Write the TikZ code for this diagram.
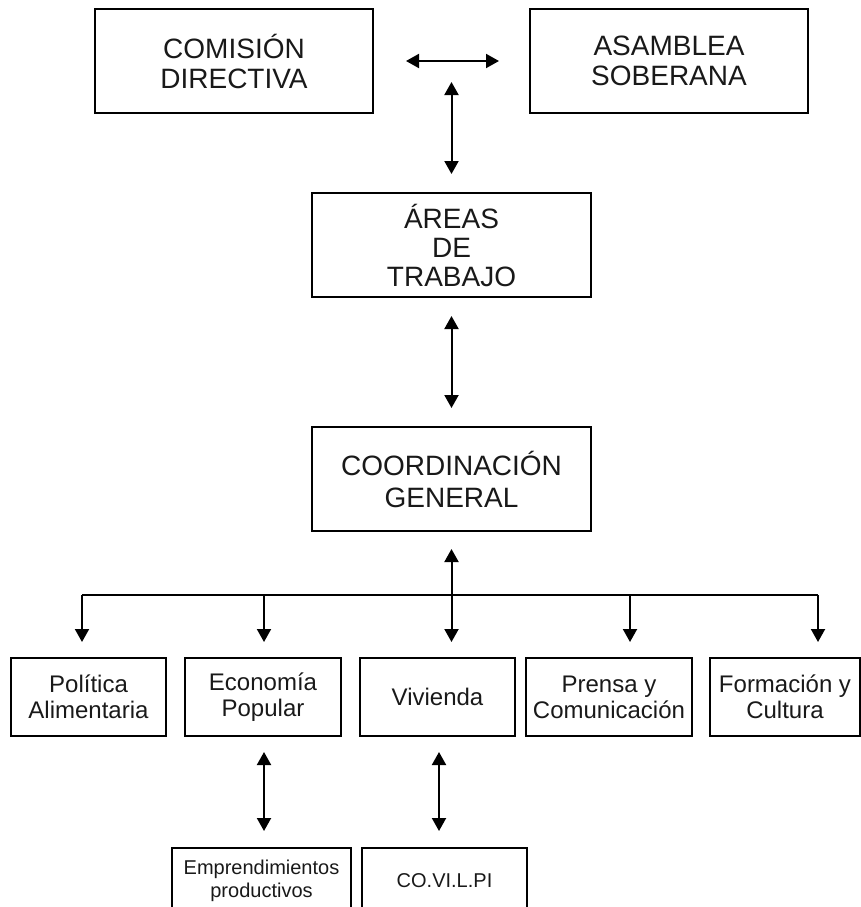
\documentclass[tikz,border=0pt]{standalone}
\usepackage{fontspec}
\setmainfont{Liberation Sans}
\usetikzlibrary{arrows.meta}
\tikzset{
  box/.style={draw, line width=2pt, inner sep=0pt, outer sep=0pt, align=center, text=black!90},
  bigbox/.style={box, minimum width=278pt, minimum height=104pt, font=\fontsize{28}{30}\selectfont},
  midbox/.style={box, minimum height=78pt, font=\fontsize{24}{26}\selectfont},
  lowbox/.style={box, minimum height=66pt, font=\fontsize{20}{23}\selectfont},
  tipshape/.tip={Triangle[length=13pt,width=14pt]},
  dbl/.style={line width=2pt, {tipshape}-{tipshape}},
  one/.style={line width=2pt, -{tipshape}},
  bar/.style={line width=2pt},
}
\begin{document}
\begin{tikzpicture}[x=1pt,y=-1pt]
\useasboundingbox (0,0) rectangle (861,907);
\clip (0,0) rectangle (861,907);
% top row
\node[bigbox] (com) at (234,61) {COMISIÓN\\DIRECTIVA};
\node[bigbox] (asa) at (669,61) {ASAMBLEA\\SOBERANA};
\node[bigbox, minimum width=279pt, font=\fontsize{28}{29}\selectfont] (areas) at (451.5,245) {ÁREAS\\DE\\TRABAJO};
\node[bigbox, minimum width=279pt, font=\fontsize{28}{32}\selectfont] (coord) at (451.5,479) {COORDINACIÓN\\GENERAL};
% middle row
\node[midbox, minimum width=155pt] (pol) at (88.5,697) {Política\\Alimentaria};
\node[midbox, minimum width=156pt] (eco) at (263,697) {Economía\\Popular};
\node[midbox, minimum width=155pt] (viv) at (437.5,697) {Vivienda};
\node[midbox, minimum width=166pt] (pre) at (609,697) {Prensa y\\Comunicación};
\node[midbox, minimum width=150pt] (for) at (785,697) {Formación y\\Cultura};
% bottom row
\node[lowbox, minimum width=179pt] (emp) at (261.5,881) {Emprendimientos\\productivos};
\node[lowbox, minimum width=165pt] (cov) at (444.5,881) {CO.VI.L.PI};
% connectors
\draw[dbl, shorten <=33pt, shorten >=31pt] (com) -- (asa);
\coordinate (t0) at (451.5,82);
\draw[dbl, shorten >=19pt] (t0) -- (areas.north);
\draw[dbl, shorten <=19pt, shorten >=19pt] (areas.south) -- (coord.north);
\draw[dbl, shorten <=18pt, shorten >=16pt] (coord.south) -- (coord.south |- viv.north);
\coordinate (b1) at (82,595);
\coordinate (b2) at (264,595);
\coordinate (b4) at (630,595);
\coordinate (b5) at (818,595);
\draw[bar] (b1) -- (b5);
\draw[one, shorten >=16pt] (b1) -- (b1 |- pol.north);
\draw[one, shorten >=16pt] (b2) -- (b2 |- eco.north);
\draw[one, shorten >=16pt] (b4) -- (b4 |- pre.north);
\draw[one, shorten >=16pt] (b5) -- (b5 |- for.north);
\draw[dbl, shorten <=16pt, shorten >=17pt] (b2 |- eco.south) -- (b2 |- emp.north);
\coordinate (v0) at (439,736);
\draw[dbl, shorten <=16pt, shorten >=17pt] (v0) -- (v0 |- cov.north);
\end{tikzpicture}
\end{document}
